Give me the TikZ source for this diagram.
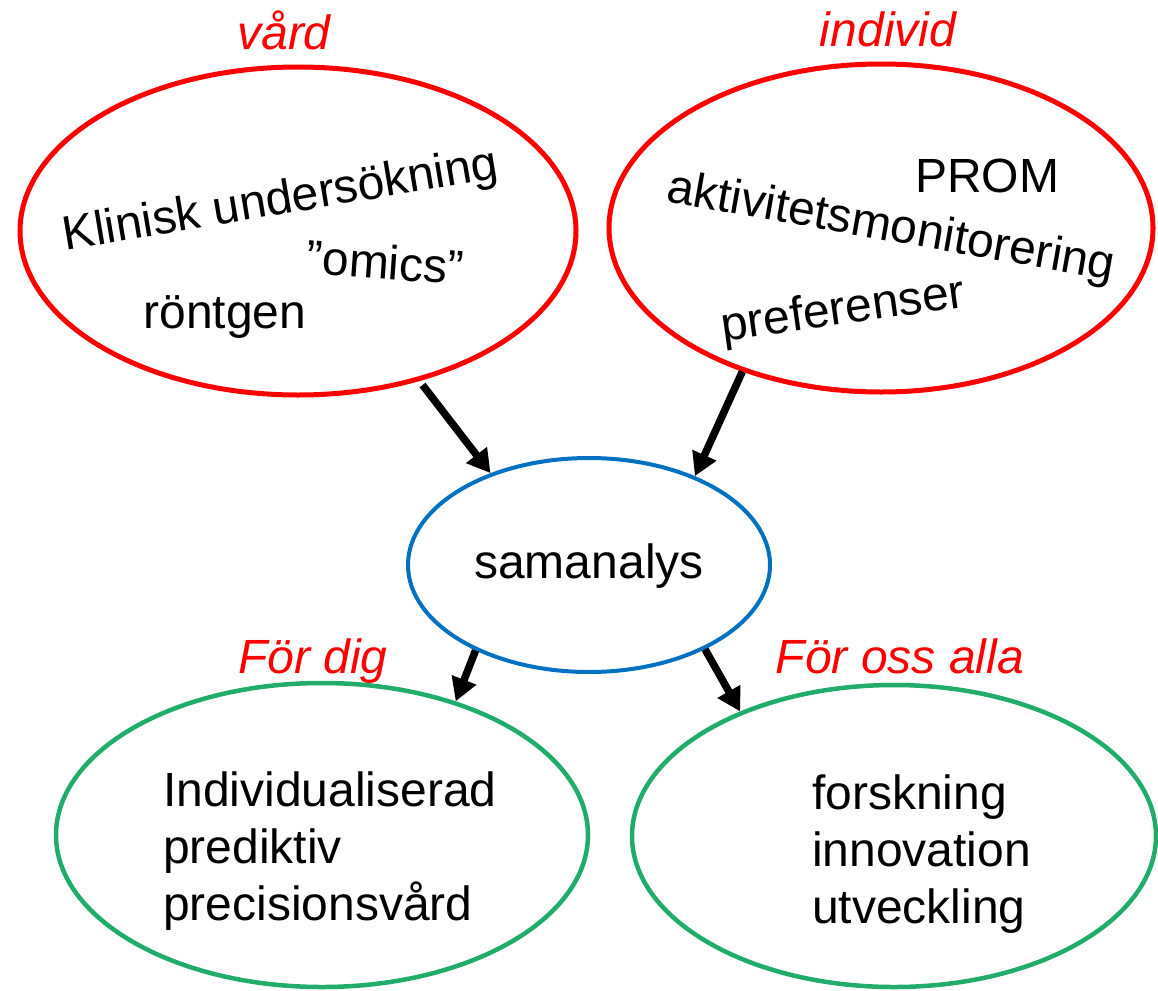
\documentclass[tikz,border=0pt]{standalone}
\usepackage{fontspec}
\setmainfont{Liberation Sans}
\usetikzlibrary{shapes.geometric,arrows.meta}
\definecolor{redc}{RGB}{255,0,0}
\definecolor{bluec}{RGB}{0,112,192}
\definecolor{greenc}{RGB}{34,172,108}
\tikzset{
  oval/.style={draw, ellipse, inner sep=0pt},
  redoval/.style={oval, draw=redc, line width=5pt},
  blueoval/.style={oval, draw=bluec, line width=4pt},
  greenoval/.style={oval, draw=greenc, line width=4.5pt},
  txt/.style={inner sep=0pt, font=\fontsize{48}{57}\selectfont},
  head/.style={txt, text=redc, font=\fontsize{48}{57}\selectfont\itshape},
  conn/.style={line width=7.5pt, -{Triangle[length=23pt,width=25pt]}},
}
\begin{document}
\begin{tikzpicture}[x=1pt,y=-1pt]
\useasboundingbox (0,0) rectangle (1158,990);
% ellipses
\node[redoval, minimum width=556pt, minimum height=328pt] (vard) at (298,231) {};
\node[redoval, minimum width=544pt, minimum height=328pt] (indiv) at (881,228) {};
\node[blueoval, minimum width=362pt, minimum height=214pt] (sam) at (589,565) {};
\node[greenoval, minimum width=532pt, minimum height=304pt] (dig) at (322,835) {};
\node[greenoval, minimum width=524pt, minimum height=302pt] (oss) at (894,836) {};
% headings
\node[head, anchor=base] (hvard) at (284,50) {vård};
\node[head, anchor=base] (hindiv) at (888,47) {individ};
\node[head, anchor=base] (hdig) at (313,673) {För dig};
\node[head, anchor=base] (hoss) at (900,673) {För oss alla};
% contents
\node[txt, anchor=base, rotate=9.5] (klin) at (283,214) {Klinisk undersökning};
\node[txt, anchor=base, rotate=-4] (omics) at (384,279) {”omics”};
\node[txt, anchor=base] (rontgen) at (225,328) {röntgen};
\node[txt, anchor=base] (prom) at (987,192) {PROM};
\node[txt, anchor=base, rotate=-10] (akt) at (889,241) {aktivitetsmonitorering};
\node[txt, anchor=base, rotate=8] (pref) at (845,324) {preferenser};
\node[txt, anchor=base] (samtxt) at (589,578) {samanalys};
\node[txt, anchor=north west, align=left] (indtxt) at (163,772) {Individualiserad\\prediktiv\\precisionsvård};
\node[txt, anchor=north west, align=left] (forsk) at (812,775) {forskning\\innovation\\utveckling};
% connectors
\draw[conn, shorten <=5pt] (vard.-51) -- (sam.137);
\draw[conn] (indiv.226) -- (sam.40);
\draw[conn] (sam.217) -- (dig.45);
\draw[conn] (sam.-36) -- (oss.141);
\end{tikzpicture}
\end{document}
